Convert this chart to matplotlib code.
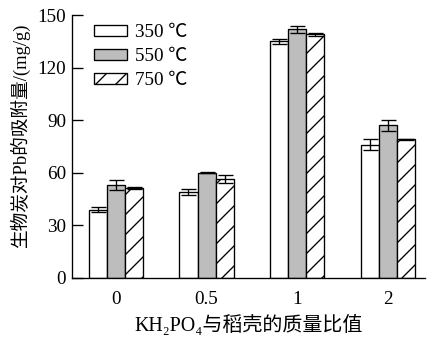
import numpy as np
import matplotlib
matplotlib.use('Agg')
import matplotlib.pyplot as plt

# 吸附量数据 (mg/g)
ratios = ['0', '0.5', '1', '2']
temps = ['350 ℃', '550 ℃', '750 ℃']
mean_350 = [39, 49, 135, 76]
mean_550 = [53, 60, 142, 87]
mean_750 = [51.5, 56.5, 139, 79]
err_350 = [1.5, 1.5, 1.5, 3.0]
err_550 = [3.0, 0.3, 2.0, 3.0]
err_750 = [0.5, 2.5, 1.0, 0.5]

fonts = ['Liberation Serif', 'Noto Sans CJK SC', 'DejaVu Serif']
plt.rcParams['font.family'] = fonts
plt.rcParams['hatch.linewidth'] = 0.8

fig = plt.figure(figsize=(427 / 120, 338 / 120), dpi=120)
ax = fig.add_axes([72 / 427, 1 - 278 / 338, 353 / 427, 263 / 338])

x = np.arange(len(ratios))
w = 0.2
styles = [('white', ''), ('#bdbdbd', ''), ('white', '//')]
means = [mean_350, mean_550, mean_750]
errs = [err_350, err_550, err_750]
for i in range(3):
    pos = x + (i - 1) * w
    ax.bar(pos, means[i], w, color=styles[i][0], hatch=styles[i][1],
           edgecolor='black', linewidth=0.8, label=temps[i])
    ax.errorbar(pos, means[i], yerr=errs[i], fmt='none', ecolor='black',
                elinewidth=0.8, capsize=4.5, capthick=0.8)

ax.set_xlim(-0.485, 3.41)
ax.set_ylim(0, 150)
ax.set_yticks([0, 30, 60, 90, 120, 150])
ax.set_xticks(x)
ax.set_xticklabels(ratios)
ax.tick_params(axis='y', direction='in', length=6.5, width=0.8, labelsize=11.5, pad=3.5)
ax.tick_params(axis='x', length=0, labelsize=11.5, pad=7.5)
for s in ['top', 'right']:
    ax.spines[s].set_visible(False)
for s in ['left', 'bottom']:
    ax.spines[s].set_linewidth(0.8)

ax.set_xlabel('KH₂PO₄与稻壳的质量比值', fontsize=12, labelpad=4.5)
ax.set_ylabel('生物炭对Pb的吸附量/(mg/g)', fontsize=11.2)
ax.yaxis.set_label_coords(-0.118, 0.54)

ax.legend(loc='upper left', bbox_to_anchor=(0.062, 0.965), frameon=False,
          fontsize=11.5, handlelength=1.72, handleheight=0.5,
          labelspacing=0.36, handletextpad=0.4, borderpad=0, borderaxespad=0)

fig.savefig('out.png', dpi=120)
